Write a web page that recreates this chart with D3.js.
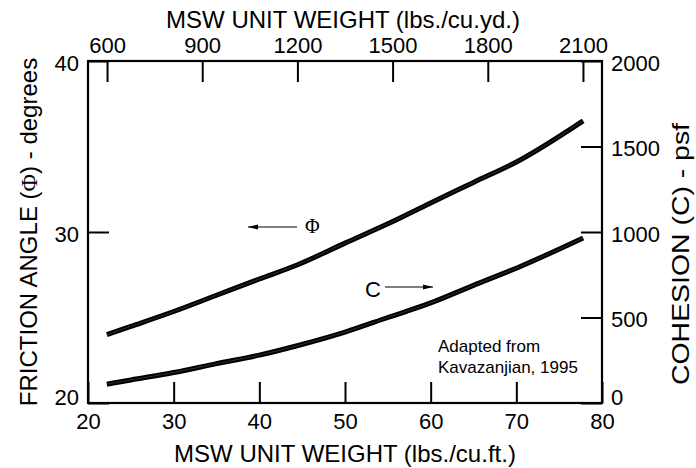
<!DOCTYPE html>
<html>
<head>
<meta charset="utf-8">
<script src="https://cdn.jsdelivr.net/npm/d3@7/dist/d3.min.js"></script>
<style>
  html, body { margin: 0; padding: 0; background: #fff; }
  svg { display: block; }
  text { font-family: "Liberation Sans", Arial, Helvetica, sans-serif; fill: #000; }
</style>
</head>
<body>
<svg id="chart" width="696" height="468"></svg>
<script>
// ---- Data ----
const unitWeightPcf = [22.2, 25, 30, 35, 40, 44.4, 50, 55, 60, 65, 70.4, 77.8];
const frictionAngle = [24.0, 24.48, 25.35, 26.3, 27.25, 28.07, 29.35, 30.48, 31.7, 32.9, 34.2, 36.5];
const cohesion      = [110, 135, 178, 230, 280, 335, 415, 500, 585, 688, 797, 965];

const bottomTicks = [20, 30, 40, 50, 60, 70, 80];
const topTicks    = [600, 900, 1200, 1500, 1800, 2100];
const leftTicks   = [20, 30, 40];
const rightTicks  = [0, 500, 1000, 1500, 2000];

const titleTop    = "MSW UNIT WEIGHT (lbs./cu.yd.)";
const titleBottom = "MSW UNIT WEIGHT (lbs./cu.ft.)";
const sourceLines = ["Adapted from", "Kavazanjian, 1995"];

// ---- Layout ----
const W = 696, H = 468;
const L = 88, R = 602, T = 61, B = 403;
const TICK = 21;
const fmt = d3.format("d");

const svg = d3.select("#chart");

const x = d3.scaleLinear().domain([20, 80]).range([L, R]);
const xTop = d3.scaleLinear().domain([20 * 27, 80 * 27]).range([L, R]);
const yPhi = d3.scaleLinear().domain([20, 40]).range([B, T]);
const yC = d3.scaleLinear().domain([0, 2000]).range([B, T]);

// Axes
const gB = svg.append("g").attr("transform", `translate(0,${B})`)
  .call(d3.axisBottom(x).tickValues(bottomTicks).tickFormat(fmt).tickSizeInner(-TICK).tickSizeOuter(0));
gB.selectAll("text").attr("y", 26).attr("dy", null);

const gT = svg.append("g").attr("transform", `translate(0,${T})`)
  .call(d3.axisTop(xTop).tickValues(topTicks).tickFormat(fmt).tickSizeInner(-TICK).tickSizeOuter(0));
gT.selectAll("text").attr("y", -8).attr("dy", null);

const gL = svg.append("g").attr("transform", `translate(${L},0)`)
  .call(d3.axisLeft(yPhi).tickValues(leftTicks).tickFormat(fmt).tickSizeInner(-TICK).tickSizeOuter(0));
gL.selectAll("text").attr("x", -9).attr("dy", null)
  .attr("y", d => d === 20 ? 1 : 9);

const gR = svg.append("g").attr("transform", `translate(${R},0)`)
  .call(d3.axisRight(yC).tickValues(rightTicks).tickFormat(fmt).tickSizeInner(-TICK).tickSizeOuter(0));
gR.selectAll("text").attr("x", 9).attr("dy", null)
  .attr("y", d => d === 0 ? 1 : 9);

[gB, gT, gL, gR].forEach(g => {
  g.select(".domain").remove();
  g.selectAll("line").attr("stroke", "#000").attr("stroke-width", 2);
  g.selectAll("text").style("font-size", "22px").attr("fill", "#000")
    .style("font-family", '"Liberation Sans", Arial, Helvetica, sans-serif');
});

// Frame
svg.append("rect").attr("x", L).attr("y", T).attr("width", R - L).attr("height", B - T)
  .attr("fill", "none").attr("stroke", "#000").attr("stroke-width", 2.2);

// Curves
const phiLine = d3.line().x((d, i) => x(unitWeightPcf[i])).y(d => yPhi(d)).curve(d3.curveMonotoneX);
const cLine = d3.line().x((d, i) => x(unitWeightPcf[i])).y(d => yC(d)).curve(d3.curveMonotoneX);

[[frictionAngle, phiLine], [cohesion, cLine]].forEach(([data, gen]) => {
  svg.append("path").attr("d", gen(data)).attr("fill", "none")
    .attr("stroke", "#000").attr("stroke-width", 5);
  svg.append("path").attr("d", gen(data)).attr("fill", "none")
    .attr("stroke", "#444").attr("stroke-width", 0.7);
});

// Arrow markers
const defs = svg.append("defs");
defs.append("marker").attr("id", "ah").attr("viewBox", "0 0 10 6")
  .attr("refX", 10).attr("refY", 3).attr("markerWidth", 10).attr("markerHeight", 6)
  .attr("markerUnits", "userSpaceOnUse").attr("orient", "auto")
  .append("path").attr("d", "M0,0.6 L10,3 L0,5.4 Z").attr("fill", "#000");

// Phi label + arrow (pointing left)
svg.append("line").attr("x1", 297).attr("y1", 227).attr("x2", 248).attr("y2", 227)
  .attr("stroke", "#000").attr("stroke-width", 1.2).attr("marker-end", "url(#ah)");
svg.append("text").attr("x", 305).attr("y", 233)
  .style("font-family", '"Liberation Serif", "Times New Roman", serif').style("font-size", "20px")
  .text("Φ");

// C label + arrow (pointing right)
svg.append("text").attr("x", 365).attr("y", 297).style("font-size", "22px").text("C");
svg.append("line").attr("x1", 385).attr("y1", 287).attr("x2", 433).attr("y2", 287)
  .attr("stroke", "#000").attr("stroke-width", 1.2).attr("marker-end", "url(#ah)");

// Source note
sourceLines.forEach((s, i) => {
  svg.append("text").attr("x", 438).attr("y", 352 + i * 21).style("font-size", "17px").text(s);
});

// Axis titles
svg.append("text").attr("x", 343).attr("y", 28).attr("text-anchor", "middle")
  .style("font-size", "24px").text(titleTop);
svg.append("text").attr("x", 345).attr("y", 462).attr("text-anchor", "middle")
  .style("font-size", "24px").text(titleBottom);

const lt = svg.append("text").attr("transform", "translate(37,232) rotate(-90)")
  .attr("text-anchor", "middle").style("font-size", "24px");
lt.append("tspan").text("FRICTION ANGLE (");
lt.append("tspan").style("font-family", '"Liberation Serif", "Times New Roman", serif').text("Φ");
lt.append("tspan").text(") - degrees");

svg.append("text").attr("transform", "translate(689,254) rotate(-90)")
  .attr("text-anchor", "middle").style("font-size", "24px")
  .attr("textLength", 262).attr("lengthAdjust", "spacingAndGlyphs")
  .text("COHESION (C) - psf");
</script>
</body>
</html>
